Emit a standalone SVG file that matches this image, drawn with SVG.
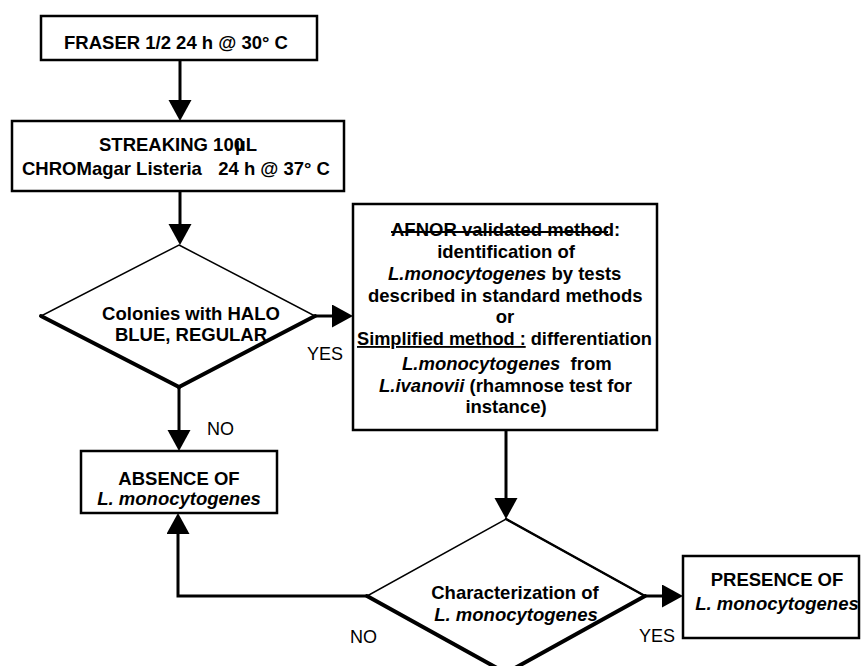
<svg xmlns="http://www.w3.org/2000/svg" width="862" height="666" viewBox="0 0 862 666">
<defs>
<style>
text{font-family:"Liberation Sans",Arial,Helvetica,sans-serif;font-size:18.5px;fill:#000}
.b{font-weight:bold}
.i{font-style:italic}
.r{font-weight:normal;font-size:18px}
.box{fill:#fff;stroke:#000;stroke-width:2.5}
.thin{fill:#fff;stroke:#000;stroke-width:1.5;stroke-linejoin:miter}
.thick{stroke:#000;stroke-width:4;stroke-linecap:round}
.mid{stroke:#000;stroke-width:2.5;stroke-linecap:round}
.conn{fill:none;stroke:#000;stroke-width:3}
</style>
<marker id="ah" markerUnits="userSpaceOnUse" markerWidth="24" markerHeight="24" refX="0" refY="11.5" orient="auto" viewBox="0 0 24 24">
<path d="M0,0 L21,11.5 L0,23 Z" fill="#000"/>
</marker>
</defs>
<rect width="862" height="666" fill="#fff"/>

<g id="connectors">
<line class="conn" x1="180" y1="60" x2="180" y2="100" marker-end="url(#ah)"/>
<line class="conn" x1="180" y1="191" x2="180" y2="224" marker-end="url(#ah)"/>
<line class="conn" x1="315" y1="316" x2="332" y2="316" marker-end="url(#ah)"/>
<line class="conn" x1="179" y1="387" x2="179" y2="430" marker-end="url(#ah)"/>
<line class="conn" x1="506" y1="430" x2="506" y2="498" marker-end="url(#ah)"/>
<polyline class="conn" points="367,596 178,596 178,534" marker-end="url(#ah)"/>
<line class="conn" x1="645" y1="596" x2="662" y2="596" marker-end="url(#ah)"/>
</g>

<g id="fraser">
<rect class="box" x="41" y="16" width="276" height="44"/>
<text class="b" x="176" y="49" text-anchor="middle">FRASER 1/2 24 h @ 30° C</text>
</g>

<g id="streaking">
<rect class="box" x="12" y="121" width="332" height="70"/>
<text class="b" x="99" y="151">STREAKING 10<tspan>0</tspan><tspan dx="-9">µ</tspan>L</text>
<text class="b" x="22" y="175">CHROMagar Listeria</text>
<text class="b" x="330" y="175" text-anchor="end">24 h @ 37° C</text>
</g>

<g id="decision1">
<polygon class="thin" points="179,245 315,316 179,387 41,316"/>
<line class="thick" x1="41" y1="316" x2="179" y2="387"/>
<line class="thick" x1="179" y1="387" x2="315" y2="316"/>
<text class="b" x="191" y="320" text-anchor="middle">Colonies with HALO</text>
<text class="b" x="191" y="341" text-anchor="middle">BLUE, REGULAR</text>
</g>

<g id="labels">
<text class="r" x="307" y="360">YES</text>
<text class="r" x="207" y="435">NO</text>
<text class="r" x="350" y="643">NO</text>
<text class="r" x="639" y="642">YES</text>
</g>

<g id="methods">
<rect class="box" x="353" y="204" width="304" height="226"/>
<text class="b" x="391" y="236">AFNOR validated method:</text>
<line x1="391" y1="232" x2="608" y2="232" stroke="#000" stroke-width="2"/>
<text class="b" x="506" y="258" text-anchor="middle">identification of</text>
<text class="b" x="388" y="280"><tspan class="i">L.monocytogenes</tspan> by tests</text>
<text class="b" x="368" y="302">described in standard methods</text>
<text class="b" x="505" y="323" text-anchor="middle">or</text>
<text class="b" x="357" y="345" textLength="295" lengthAdjust="spacingAndGlyphs"><tspan text-decoration="underline">Simplified method :</tspan> differentiation</text>
<text class="b" x="402" y="370" xml:space="preserve"><tspan class="i">L.monocytogenes</tspan>  from</text>
<text class="b" x="379" y="392"><tspan class="i">L.ivanovii</tspan> (rhamnose test for</text>
<text class="b" x="506" y="413" text-anchor="middle">instance)</text>
</g>

<g id="absence">
<rect class="box" x="81" y="451" width="196" height="62"/>
<text class="b" x="179" y="485" text-anchor="middle">ABSENCE OF</text>
<text class="b i" x="179" y="505" text-anchor="middle">L. monocytogenes</text>
</g>

<g id="decision2">
<polygon class="thin" points="506,519 645,596 506,673 367,596"/>
<line class="mid" x1="506" y1="519" x2="645" y2="596"/>
<line class="thick" x1="367" y1="596" x2="506" y2="673"/>
<line class="thick" x1="506" y1="673" x2="645" y2="596"/>
<text class="b" x="515" y="599" text-anchor="middle">Characterization of</text>
<text class="b i" x="516" y="621" text-anchor="middle">L. monocytogenes</text>
</g>

<g id="presence">
<rect class="box" x="683" y="556" width="176" height="82"/>
<text class="b" x="777" y="586" text-anchor="middle">PRESENCE OF</text>
<text class="b i" x="777" y="610" text-anchor="middle">L. monocytogenes</text>
</g>
</svg>
